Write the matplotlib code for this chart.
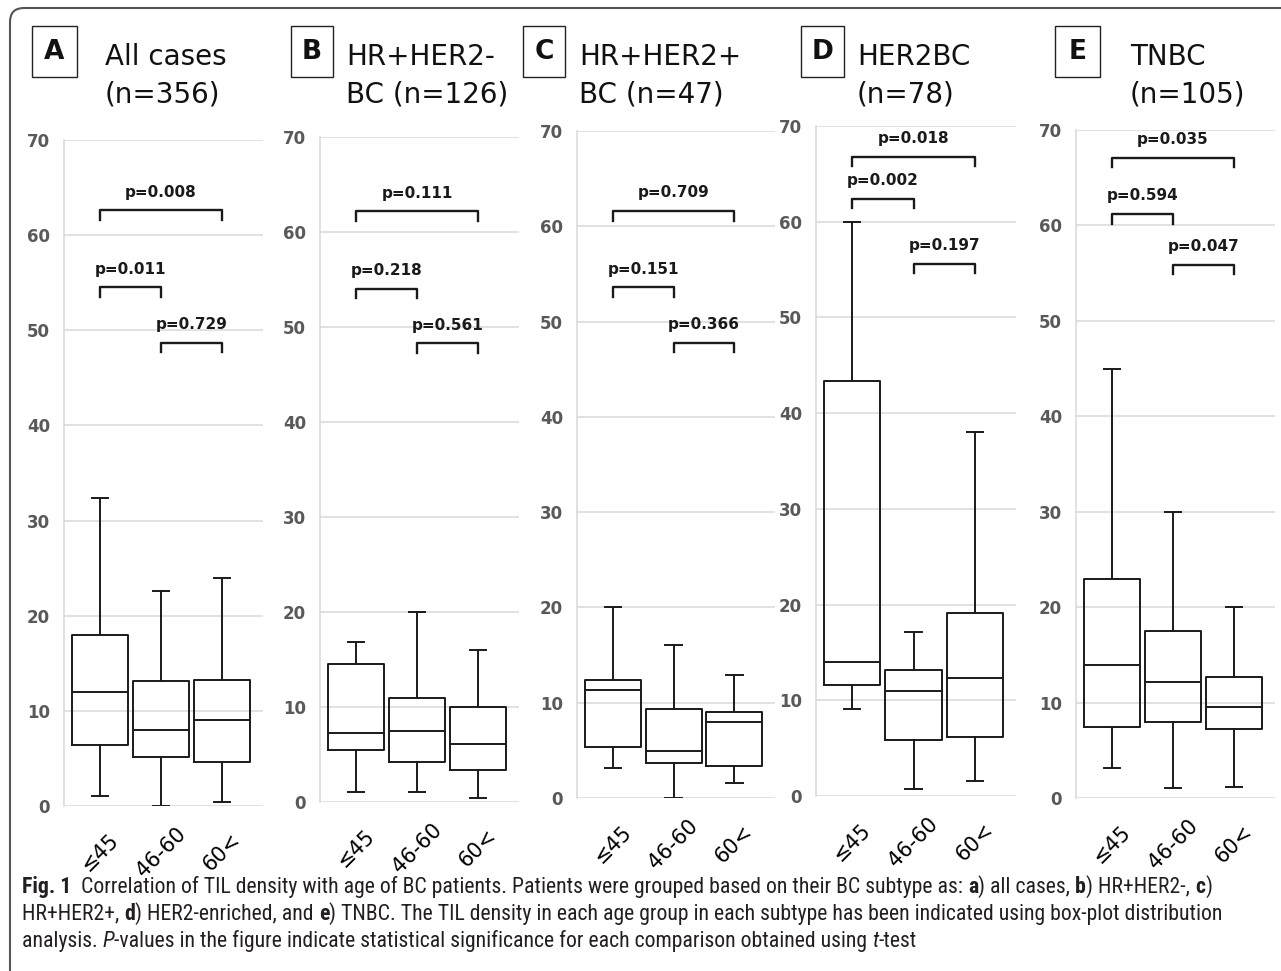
import matplotlib
matplotlib.use("Agg")
import matplotlib.pyplot as plt
from matplotlib import font_manager
from matplotlib.patches import FancyBboxPatch, Rectangle
from matplotlib.transforms import IdentityTransform

W, H = 1281, 971

groups = ["≤45", "46-60", "60<"]
letters = ["A", "B", "C", "D", "E"]
title_top = ["All cases", "HR+HER2-", "HR+HER2+", "HER2BC", "TNBC"]
title_bottom = ["(n=356)", "BC (n=126)", "BC (n=47)", "(n=78)", "(n=105)"]

# per age group: whisker low, q1, median, q3, whisker high
all_cases = [[1.1, 6.4, 12.0, 18.0, 32.4], [0.0, 5.1, 8.0, 13.1, 22.6], [0.4, 4.6, 9.0, 13.2, 24.0]]
hr_her2_neg = [[1.1, 5.45, 7.3, 14.5, 16.8], [1.1, 4.2, 7.5, 11.0, 20.0], [0.4, 3.4, 6.1, 10.0, 16.0]]
hr_her2_pos = [[3.1, 5.4, 11.3, 12.4, 20.0], [0.0, 3.65, 4.9, 9.3, 16.1], [1.6, 3.4, 8.0, 9.0, 12.9]]
her2bc = [[9.1, 11.6, 14.0, 43.4, 60.0], [0.7, 5.9, 11.0, 13.2, 17.1], [1.55, 6.2, 12.3, 19.1, 38.0]]
tnbc = [[3.1, 7.4, 13.95, 23.0, 45.0], [1.1, 8.0, 12.2, 17.45, 30.0], [1.2, 7.27, 9.5, 12.66, 20.0]]
panels = [all_cases, hr_her2_neg, hr_her2_pos, her2bc, tnbc]

# comparisons: (group i, group j, bracket height, p-value)
p_all = [(0, 2, 62.6, "p=0.008"), (0, 1, 54.5, "p=0.011"), (1, 2, 48.7, "p=0.729")]
p_neg = [(0, 2, 62.2, "p=0.111"), (0, 1, 54.0, "p=0.218"), (1, 2, 48.3, "p=0.561")]
p_pos = [(0, 2, 61.6, "p=0.709"), (0, 1, 53.6, "p=0.151"), (1, 2, 47.8, "p=0.366")]
p_her2 = [(0, 2, 66.8, "p=0.018"), (0, 1, 62.4, "p=0.002"), (1, 2, 55.6, "p=0.197")]
p_tnbc = [(0, 2, 67.1, "p=0.035"), (0, 1, 61.2, "p=0.594"), (1, 2, 55.9, "p=0.047")]
pvals = [p_all, p_neg, p_pos, p_her2, p_tnbc]

# axes boxes in pixels: left, width, top, bottom
ax_px = [(64, 199, 140, 806), (320, 199, 137, 802), (577, 198, 131, 798),
         (816, 200, 126, 796), (1076, 199, 130, 798)]
letter_x = [(32, 77), (291, 333), (523, 565), (801, 844), (1055, 1100)]
title_x = [105, 346, 579, 857, 1130]

fig = plt.figure(figsize=(W / 100, H / 100), dpi=100)
ident = IdentityTransform()
ink = "#1a1a1a"

for k in range(5):
    left, w, top, bot = ax_px[k]
    ax = fig.add_axes([left / W, (H - bot) / H, w / W, (bot - top) / H])
    stats = []
    for lo, q1, med, q3, hi in panels[k]:
        stats.append(dict(whislo=lo, q1=q1, med=med, q3=q3, whishi=hi, fliers=[]))
    line = dict(color=ink, lw=1.4)
    ax.bxp(stats, positions=[0, 1, 2], widths=0.92, capwidths=0.27, showfliers=False,
           boxprops=line, medianprops=line, whiskerprops=line, capprops=line)
    ax.set_xlim(-0.59, 2.67)
    ax.set_ylim(0, 70)
    ax.set_yticks(range(0, 71, 10))
    ax.grid(axis="y", color="#d9d9d9", lw=1.1)
    ax.set_axisbelow(True)
    for s in ["top", "right", "bottom"]:
        ax.spines[s].set_visible(False)
    ax.spines["left"].set_color("#d9d9d9")
    ax.spines["left"].set_linewidth(1.1)
    ax.tick_params(axis="y", length=0, pad=10, labelsize=12, labelcolor="#595959")
    for t in ax.get_yticklabels():
        t.set_fontweight("bold")
    ax.tick_params(axis="x", length=0, pad=33)
    ax.set_xticks([0, 1, 2])
    ax.set_xticklabels(groups, rotation=45, ha="center", va="center",
                       rotation_mode="anchor", fontsize=15)

    for i, j, y, lab in pvals[k]:
        ax.plot([i, i, j, j], [y - 1, y, y, y - 1], color=ink, lw=1.7, clip_on=False)
        ax.text((i + j) / 2, y + 1.9, lab, ha="center", va="center",
                fontsize=11, fontweight="bold", color=ink)

    x0, x1 = letter_x[k]
    fig.add_artist(Rectangle((x0, H - 77), x1 - x0, 51, transform=ident,
                             fill=False, ec="#222222", lw=1.0))
    fig.text((x0 + x1) / 2, H - 52, letters[k], transform=ident, ha="center",
             va="center", fontsize=19, fontweight="bold", color="#111111")
    fig.text(title_x[k], H - 65, title_top[k], transform=ident, fontsize=20,
             va="baseline", color="#111111")
    fig.text(title_x[k], H - 102, title_bottom[k], transform=ident, fontsize=20,
             va="baseline", color="#111111")

# page border
fig.add_artist(FancyBboxPatch((10, -40), 1400, H - 8 + 40, transform=ident,
                              boxstyle="round,pad=0,rounding_size=14",
                              fill=False, ec="#555555", lw=1.5))

# caption
names = {f.name for f in font_manager.fontManager.ttflist}
cap_font = "Liberation Sans"
for n in ["Liberation Sans Narrow", "Roboto Condensed", "Open Sans Condensed"]:
    if n in names:
        cap_font = n
        break

N, B, I = ("normal", "normal"), ("bold", "normal"), ("normal", "italic")
cap1 = [("Fig. 1  ", B), ("Correlation of TIL density with age of BC patients. Patients were grouped "
        "based on their BC subtype as: ", N), ("a", B), (") all cases, ", N), ("b", B),
        (") HR+HER2-, ", N), ("c", B), (")", N)]
cap2 = [("HR+HER2+, ", N), ("d", B), (") HER2-enriched, and ", N), ("e", B),
        (") TNBC. The TIL density in each age group in each subtype has been indicated "
         "using box-plot distribution", N)]
cap3 = [("analysis. ", N), ("P", I), ("-values in the figure indicate statistical significance "
        "for each comparison obtained using ", N), ("t", I), ("-test", N)]

renderer = fig.canvas.get_renderer()


def seg_width(s, size, style):
    t = fig.text(0, 0, s + "|", transform=ident, family=cap_font, fontsize=size,
                 fontweight=style[0], style=style[1])
    w1 = t.get_window_extent(renderer).width
    t.set_text("|")
    w2 = t.get_window_extent(renderer).width
    t.remove()
    return w1 - w2


ref = sum(seg_width(s, 10, st) for s, st in cap1)
cap_size = 10 * 1185 / ref

for y, segs in [(887, cap1), (914, cap2), (941, cap3)]:
    x = 22
    for s, st in segs:
        fig.text(x, H - y, s, transform=ident, family=cap_font, fontsize=cap_size,
                 fontweight=st[0], style=st[1], va="center", color="#231f20")
        x += seg_width(s, cap_size, st)

fig.savefig("out.png", dpi=100)
